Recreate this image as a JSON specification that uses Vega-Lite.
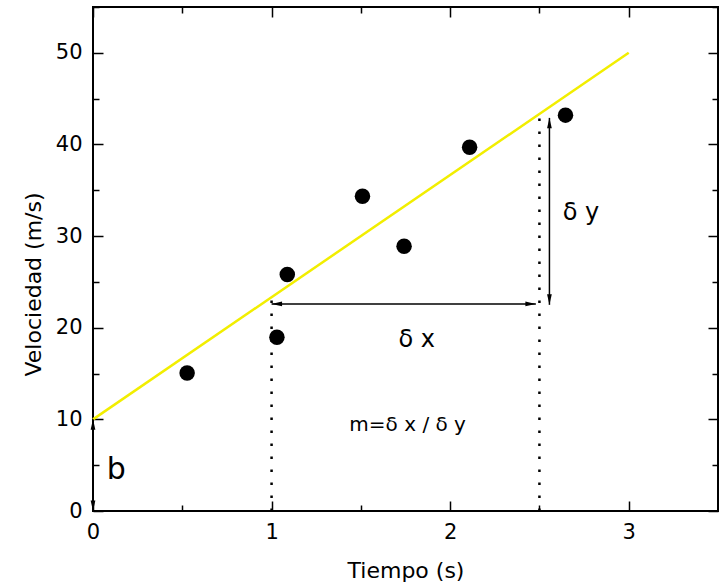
{
  "$schema": "https://vega.github.io/schema/vega-lite/v6.json",
  "width": 625,
  "height": 504,
  "autosize": {"type": "none"},
  "padding": {"left": 93, "top": 7, "right": 1, "bottom": 76},
  "background": "white",
  "config": {
    "view": {"stroke": "black", "strokeWidth": 2},
    "axis": {
      "domain": false,
      "grid": false,
      "tickColor": "black",
      "tickWidth": 1.5,
      "labelFont": "DejaVu Sans",
      "titleFont": "DejaVu Sans",
      "labelColor": "black",
      "titleColor": "black",
      "titleFontWeight": "normal",
      "labelFontSize": 21,
      "titleFontSize": 22
    }
  },
  "datasets": {
    "pts": [
      {"t": 0.527, "v": 15.05},
      {"t": 1.03, "v": 18.97},
      {"t": 1.088, "v": 25.8},
      {"t": 1.509, "v": 34.35},
      {"t": 1.742, "v": 28.9},
      {"t": 2.109, "v": 39.7},
      {"t": 2.646, "v": 43.2}
    ],
    "fit": [
      {"t": 0, "v": 10},
      {"t": 3, "v": 50}
    ],
    "dotted": [
      {"t": 1, "v0": 0, "v1": 23.3},
      {"t": 2.5, "v0": 0, "v1": 43.4}
    ],
    "arrows": [
      {"t1": 1.0, "t2": 2.48, "v1": 22.6, "v2": 22.6},
      {"t1": 2.556, "t2": 2.556, "v1": 22.5, "v2": 42.9},
      {"t1": 0, "t2": 0, "v1": 0, "v2": 10}
    ],
    "heads": [
      {"t": 1.0, "v": 22.6, "dir": "left"},
      {"t": 2.48, "v": 22.6, "dir": "right"},
      {"t": 2.556, "v": 42.9, "dir": "up"},
      {"t": 2.556, "v": 22.5, "dir": "down"},
      {"t": 0, "v": 10, "dir": "up"},
      {"t": 0, "v": 0, "dir": "down"}
    ],
    "labels": [
      {"t": 1.813, "v": 18.65, "label": "δ x", "kind": "dx"},
      {"t": 2.733, "v": 32.5, "label": "δ y", "kind": "dy"},
      {"t": 1.762, "v": 9.4, "label": "m=δ x / δ y", "kind": "m"},
      {"t": 0.13, "v": 4.5, "label": "b", "kind": "b"}
    ]
  },
  "resolve": {"axis": {"x": "independent", "y": "independent"}},
  "layer": [
    {
      "data": {"name": "fit"},
      "mark": {"type": "line", "color": "#f2ee00", "strokeWidth": 2.5},
      "encoding": {
        "x": {"field": "t", "type": "quantitative", "scale": {"domain": [0, 3.5], "nice": false, "zero": false},
              "axis": {"orient": "bottom", "values": [0, 1, 2, 3], "offset": -10, "tickSize": 10, "labelPadding": 10, "title": "Tiempo (s)", "titlePadding": 18, "labelFlush": false}},
        "y": {"field": "v", "type": "quantitative", "scale": {"domain": [0, 55], "nice": false, "zero": false},
              "axis": {"orient": "left", "values": [0, 10, 20, 30, 40, 50], "offset": -10, "tickSize": 10, "labelPadding": 11, "title": "Velociedad (m/s)", "titlePadding": 10, "titleY": 277, "labelFlush": false}}
      }
    },
    {
      "data": {"name": "dotted"},
      "mark": {"type": "rule", "color": "black", "strokeWidth": 2.5, "strokeDash": [2.5, 10.5]},
      "encoding": {
        "x": {"field": "t", "type": "quantitative",
              "axis": {"orient": "bottom", "values": [0.5, 1.5, 2.5, 3.5], "offset": -6, "tickSize": 6, "labels": false, "title": null}},
        "y": {"field": "v0", "type": "quantitative",
              "axis": {"orient": "left", "values": [5, 15, 25, 35, 45, 55], "offset": -6, "tickSize": 6, "labels": false, "title": null}},
        "y2": {"field": "v1"}
      }
    },
    {
      "data": {"name": "arrows"},
      "mark": {"type": "rule", "color": "black", "strokeWidth": 1.5},
      "encoding": {
        "x": {"field": "t1", "type": "quantitative",
              "axis": {"orient": "top", "values": [0, 1, 2, 3], "offset": -10, "tickSize": 10, "labels": false, "title": null}},
        "x2": {"field": "t2"},
        "y": {"field": "v1", "type": "quantitative",
              "axis": {"orient": "right", "values": [0, 10, 20, 30, 40, 50], "offset": -10, "tickSize": 10, "labels": false, "title": null}},
        "y2": {"field": "v2"}
      }
    },
    {
      "data": {"name": "heads"},
      "mark": {"type": "point", "filled": true, "color": "black", "opacity": 1, "size": 110, "strokeWidth": 0},
      "encoding": {
        "x": {"field": "t", "type": "quantitative",
              "axis": {"orient": "top", "values": [0.5, 1.5, 2.5, 3.5], "offset": -6, "tickSize": 6, "labels": false, "title": null}},
        "y": {"field": "v", "type": "quantitative",
              "axis": {"orient": "right", "values": [5, 15, 25, 35, 45, 55], "offset": -6, "tickSize": 6, "labels": false, "title": null}},
        "shape": {"field": "dir", "type": "nominal", "legend": null,
                  "scale": {"domain": ["left", "right", "up", "down"],
                            "range": ["M0,0L2,0.45L2,-0.45Z", "M0,0L-2,0.45L-2,-0.45Z", "M0,0L0.45,2L-0.45,2Z", "M0,0L0.45,-2L-0.45,-2Z"]}}
      }
    },
    {
      "data": {"name": "pts"},
      "mark": {"type": "circle", "color": "black", "opacity": 1, "size": 240},
      "encoding": {
        "x": {"field": "t", "type": "quantitative", "axis": null},
        "y": {"field": "v", "type": "quantitative", "axis": null}
      }
    },
    {
      "data": {"name": "labels"},
      "transform": [{"filter": "datum.kind === 'dx' || datum.kind === 'dy'"}],
      "mark": {"type": "text", "font": "DejaVu Sans", "fontSize": 24, "color": "black", "align": "center", "baseline": "middle"},
      "encoding": {
        "x": {"field": "t", "type": "quantitative", "axis": null},
        "y": {"field": "v", "type": "quantitative", "axis": null},
        "text": {"field": "label"}
      }
    },
    {
      "data": {"name": "labels"},
      "transform": [{"filter": "datum.kind === 'm'"}],
      "mark": {"type": "text", "font": "DejaVu Sans", "fontSize": 20, "color": "black", "align": "center", "baseline": "middle"},
      "encoding": {
        "x": {"field": "t", "type": "quantitative", "axis": null},
        "y": {"field": "v", "type": "quantitative", "axis": null},
        "text": {"field": "label"}
      }
    },
    {
      "data": {"name": "labels"},
      "transform": [{"filter": "datum.kind === 'b'"}],
      "mark": {"type": "text", "font": "DejaVu Sans", "fontSize": 30, "color": "black", "align": "center", "baseline": "middle"},
      "encoding": {
        "x": {"field": "t", "type": "quantitative", "axis": null},
        "y": {"field": "v", "type": "quantitative", "axis": null},
        "text": {"field": "label"}
      }
    }
  ]
}
